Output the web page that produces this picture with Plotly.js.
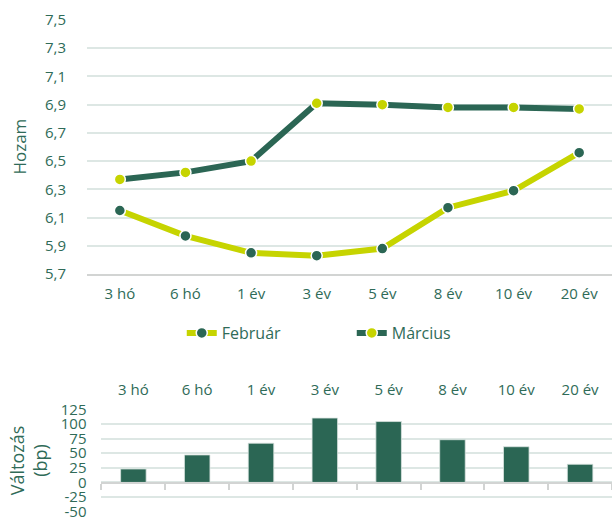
<!DOCTYPE html>
<html>
<head>
<meta charset="utf-8">
<script src="https://cdn.plot.ly/plotly-3.0.1.min.js"></script>
<style>html,body{margin:0;padding:0;background:#fff}#chart{width:612px;height:520px}</style>
</head>
<body>
<div id="chart"></div>
<script>
var categories = ["3 hó", "6 hó", "1 év", "3 év", "5 év", "8 év", "10 év", "20 év"];
var februar = [6.15, 5.97, 5.85, 5.83, 5.88, 6.17, 6.29, 6.56];
var marcius = [6.37, 6.42, 6.50, 6.91, 6.90, 6.88, 6.88, 6.87];
var valtozas = [23, 47, 67, 110, 104, 73, 61, 31];
var yTickVals2 = [125, 100, 75, 50, 25, 0, -25, -50];
var yTickText2 = ["125", "100", "75", "50", "25", "0", "-25", "-50"];

var DARK = "#2b6654";
var LIME = "#c6d400";
var TXT = "#2f6b58";
var GRID = "#dde7e4";
var AXL = "#d2d4d3";
var FONT = "Open Sans, sans-serif";

var traces = [
  {
    x: categories, y: februar, name: "Február", type: "scatter", mode: "lines+markers",
    xaxis: "x", yaxis: "y",
    line: {color: LIME, width: 6},
    marker: {color: DARK, size: 11, line: {color: "#ffffff", width: 1.5}},
    hoverinfo: "x+y"
  },
  {
    x: categories, y: marcius, name: "Március", type: "scatter", mode: "lines+markers",
    xaxis: "x", yaxis: "y",
    line: {color: DARK, width: 6},
    marker: {color: LIME, size: 11, line: {color: "#ffffff", width: 1.5}},
    hoverinfo: "x+y"
  },
  {
    x: categories, y: valtozas, name: "Változás", type: "bar",
    xaxis: "x2", yaxis: "y2", width: 0.4,
    marker: {color: DARK, line: {color: "#d9e3df", width: 0.8}},
    showlegend: false
  },
  {
    x: categories, y: valtozas, type: "scatter", mode: "markers",
    xaxis: "x3", yaxis: "y2",
    marker: {opacity: 0, size: 1},
    showlegend: false, hoverinfo: "skip"
  }
];

var layout = {
  width: 612, height: 520,
  margin: {l: 0, r: 0, t: 0, b: 0},
  paper_bgcolor: "#ffffff", plot_bgcolor: "#ffffff",
  separators: ", ",
  font: {family: FONT, color: TXT, size: 15},
  showlegend: true,
  legend: {
    orientation: "h", x: 0.297, xanchor: "left", y: 0.3596, yanchor: "middle",
    entrywidth: 125, entrywidthmode: "pixels",
    font: {family: FONT, size: 16, color: TXT},
    bgcolor: "rgba(0,0,0,0)"
  },
  xaxis: {
    domain: [0.1422, 1], anchor: "y", type: "category",
    categoryorder: "array", categoryarray: categories, range: [-0.5, 7.5],
    showgrid: false, zeroline: false,
    showline: true, linecolor: AXL, linewidth: 2,
    ticks: "", ticklabelstandoff: 5,
    tickfont: {family: FONT, size: 15, color: TXT}
  },
  yaxis: {
    domain: [0.4731, 0.9629], anchor: "x",
    range: [5.7, 7.505], tick0: 5.7, dtick: 0.2, tickformat: ".1f",
    showgrid: true, gridcolor: GRID, gridwidth: 1.5,
    zeroline: false, showline: false, ticks: "",
    ticklabelstandoff: 20,
    tickfont: {family: FONT, size: 15, color: TXT},
    title: {text: "Hozam", font: {family: FONT, size: 17, color: TXT}, standoff: 14}
  },
  xaxis2: {
    domain: [0.1658, 1], anchor: "free", position: 0.0720, type: "category",
    categoryorder: "array", categoryarray: categories, range: [-0.5, 7.5],
    showgrid: false, zeroline: false,
    showline: true, linecolor: AXL, linewidth: 2,
    ticks: "outside", tickson: "boundaries", ticklen: 6, tickwidth: 1.5, tickcolor: AXL,
    showticklabels: false
  },
  xaxis3: {
    domain: [0.1658, 1], anchor: "free", position: 0.2135, overlaying: "x2", side: "top",
    type: "category", categoryorder: "array", categoryarray: categories, range: [-0.5, 7.5],
    showgrid: false, zeroline: false, showline: false, ticks: "",
    ticklabelstandoff: 11,
    tickfont: {family: FONT, size: 15, color: TXT}
  },
  yaxis2: {
    domain: [0.0154, 0.2135], anchor: "x2",
    range: [-50.5, 125.5], tickmode: "array", tickvals: yTickVals2, ticktext: yTickText2,
    showgrid: true, gridcolor: GRID, gridwidth: 1.5,
    zeroline: false, showline: false, ticks: "",
    ticklabelstandoff: 14, ticklabeloverflow: "allow",
    tickfont: {family: FONT, size: 15, color: TXT},
    title: {text: "Változás<br>(bp)", font: {family: FONT, size: 18, color: TXT}, standoff: 8}
  }
};

Plotly.newPlot("chart", traces, layout, {displayModeBar: false});
</script>
</body>
</html>
